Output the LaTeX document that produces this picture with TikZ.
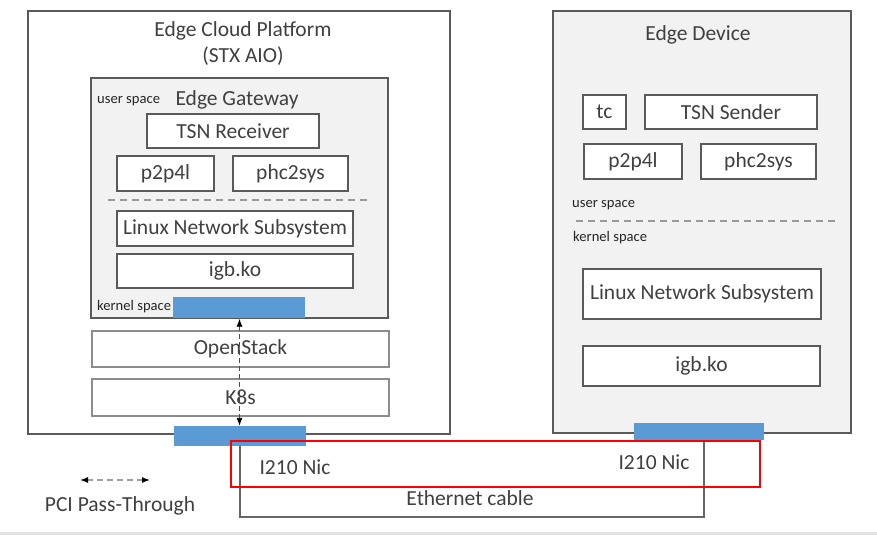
\documentclass[tikz,border=0pt]{standalone}
\usepackage{fontspec}
\setmainfont{Carlito}
\usetikzlibrary{arrows.meta}
\definecolor{txt}{HTML}{404040}
\definecolor{bord}{HTML}{5A5A5A}
\definecolor{lbord}{HTML}{8C8C8C}
\definecolor{panel}{HTML}{F2F2F2}
\definecolor{nicblue}{HTML}{5B9BD5}
\definecolor{band}{HTML}{E3E3E3}
\tikzset{
  big/.style={font=\fontsize{21.5}{24}\selectfont, text=txt},
  small/.style={font=\fontsize{14.6}{16}\selectfont, text=black!85, inner sep=0pt},
  container/.style={draw=bord, line width=1.4pt, inner sep=0pt},
  modbox/.style={draw=bord, line width=1.4pt, fill=white, inner sep=0pt, big},
  lightbox/.style={draw=lbord, line width=1.2pt, fill=white, inner sep=0pt, big},
  nicbar/.style={fill=nicblue, draw=none, inner sep=0pt},
  sepline/.style={draw=gray!80, dashed, line width=1.3pt, dash pattern=on 7pt off 5pt},
  pci/.style={draw=gray!75, line width=1.3pt, dash pattern=on 6pt off 4pt, {Latex[length=8pt,width=6pt,black]}-{Latex[length=8pt,width=6pt,black]}},
  cable/.style={draw=gray!80!black, line width=1.2pt},
  redbox/.style={draw=red, line width=2pt, inner sep=0pt}
}
\begin{document}
\begin{tikzpicture}[x=1pt,y=-1pt]
\useasboundingbox (0,0) rectangle (877,535);
\fill[white] (0,0) rectangle (877,535);
\fill[band] (0,532) rectangle (877,535);

% Edge Cloud Platform
\node[container, fill=white, minimum width=422pt, minimum height=423pt] (ecp) at (239,222.5) {};
\node[big] (ecpt1) at (243,31) {Edge Cloud Platform};
\node[big] (ecpt2) at (243,56) {(STX AIO)};

\node[container, fill=panel, minimum width=297pt, minimum height=240pt] (gw) at (239.5,198) {};
\node[small, anchor=west] (gwus) at (97,101) {user space};
\node[big] (gwt) at (237,100) {Edge Gateway};
\node[modbox, minimum width=172pt, minimum height=34pt] (tsnr) at (233,131) {TSN Receiver};
\node[modbox, minimum width=97pt, minimum height=35pt] (ptpL) at (165.5,173.5) {p2p4l};
\node[modbox, minimum width=115pt, minimum height=35pt] (phcL) at (290.5,173.5) {phc2sys};
\coordinate (sepL1) at (108,200);
\coordinate (sepL2) at (368,200);
\draw[sepline] (sepL1) -- (sepL2);
\node[modbox, minimum width=236pt, minimum height=35pt] (lnsL) at (235,228.5) {Linux Network Subsystem};
\node[modbox, minimum width=236pt, minimum height=34pt] (igbL) at (235,271) {igb.ko};
\node[small, anchor=west] (gwks) at (97,307) {kernel space};
\node[nicbar, minimum width=132pt, minimum height=21pt] (barG) at (239,307.5) {};

\node[lightbox, minimum width=297pt, minimum height=36pt] (os) at (240.5,349) {OpenStack};
\node[lightbox, minimum width=297pt, minimum height=37pt] (k8s) at (240.5,397.5) {K8s};
\node[nicbar, minimum width=132pt, minimum height=20pt] (barL) at (240,436) {};

\draw[pci, line width=0.9pt, dash pattern=on 5pt off 3pt, draw=black!70] (gw.south) -- (gw.south |- barL.north);

% Edge Device
\node[container, fill=panel, minimum width=298pt, minimum height=422pt] (ed) at (702,222) {};
\node[big] (edt) at (698,35) {Edge Device};
\node[modbox, minimum width=43pt, minimum height=34pt] (tc) at (604.5,112) {tc};
\node[modbox, minimum width=172pt, minimum height=34pt] (tsns) at (731,112) {TSN Sender};
\node[modbox, minimum width=98pt, minimum height=35pt] (ptpR) at (633,161.5) {p2p4l};
\node[modbox, minimum width=115pt, minimum height=35pt] (phcR) at (758.5,161.5) {phc2sys};
\node[small, anchor=west] (edus) at (572,205) {user space};
\coordinate (sepR1) at (576,221);
\coordinate (sepR2) at (836,221);
\draw[sepline] (sepR1) -- (sepR2);
\node[small, anchor=west] (edks) at (573,238) {kernel space};
\node[modbox, minimum width=238pt, minimum height=50pt] (lnsR) at (702,294) {Linux Network Subsystem};
\node[modbox, minimum width=237pt, minimum height=40pt] (igbR) at (701.5,366) {igb.ko};
\node[nicbar, minimum width=130pt, minimum height=17pt] (barR) at (699,431.5) {};

% Ethernet cable
\coordinate (cabR) at (704,517);
\draw[cable] (barL.south) |- (cabR) -- (cabR |- barR.south);
\node[big] (nicL) at (295,467) {I210 Nic};
\node[big] (nicR) at (654,462) {I210 Nic};
\node[big] (eth) at (470,498) {Ethernet cable};
\node[redbox, minimum width=529pt, minimum height=46pt] (hl) at (495.5,464) {};

% Legend
\coordinate (legA) at (80,480);
\coordinate (legB) at (150,480);
\draw[pci] (legA) -- (legB);
\node[big] (legt) at (120,506) {PCI Pass-Through};
\end{tikzpicture}
\end{document}
